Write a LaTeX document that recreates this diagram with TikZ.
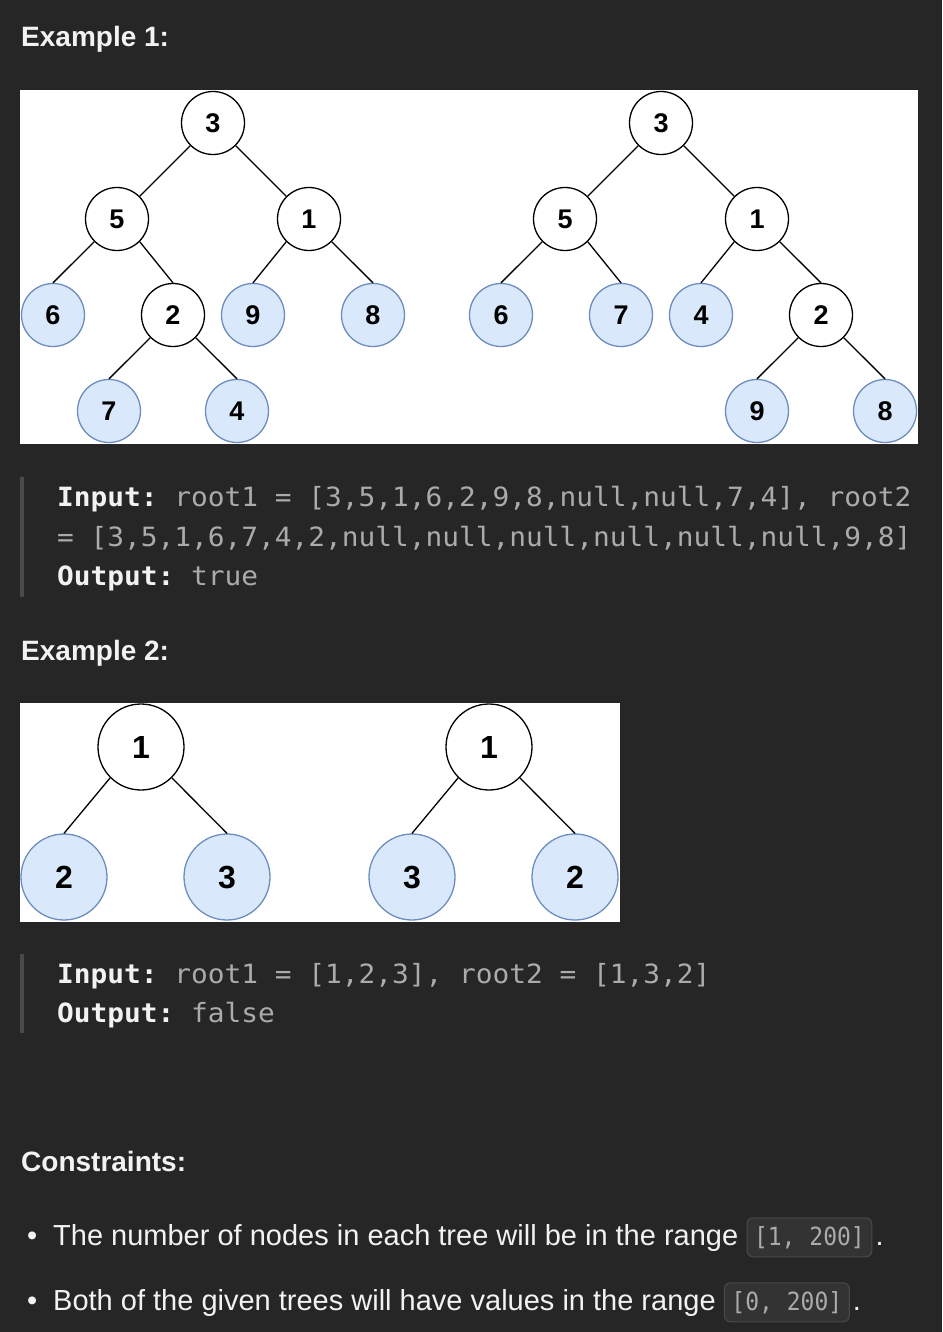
\documentclass[tikz,border=0pt]{standalone}
\usepackage{fontspec}
\setmainfont{Liberation Sans}
\newfontfamily\codefont{DejaVu Sans Mono}[FakeStretch=1.05]
\newfontfamily\chipfont{DejaVu Sans Mono}[FakeStretch=0.92]
\usetikzlibrary{positioning}
\definecolor{pagebg}{HTML}{262626}
\definecolor{leaffill}{HTML}{DAE8FC}
\definecolor{leafdraw}{HTML}{6C8EBF}
\definecolor{codegray}{HTML}{ABABAB}
\definecolor{quotebar}{HTML}{4A4A4A}
\definecolor{chipfill}{HTML}{333333}
\definecolor{chipdraw}{HTML}{4A4A4A}
\definecolor{textwhite}{HTML}{F2F2F2}
\frenchspacing
\begin{document}
\begin{tikzpicture}[x=1pt,y=-1pt, line join=round, line cap=round,
  inner/.style={circle,draw=black,fill=white,line width=1.3pt,minimum size=63pt,inner sep=0pt,font=\fontsize{27}{27}\selectfont\bfseries},
  leaf/.style={inner,draw=leafdraw,fill=leaffill},
  big/.style={minimum size=86pt,font=\fontsize{32}{32}\selectfont\bfseries},
  edge/.style={line width=1.3pt},
  head/.style={anchor=base west,inner sep=0pt,text=textwhite,font=\fontsize{28}{28}\selectfont\bfseries},
  code/.style={anchor=base west,inner sep=0pt,text=codegray,font=\fontsize{26.5}{26.5}\codefont},
  body/.style={anchor=base west,inner sep=0pt,text=textwhite,font=\fontsize{29}{29}\selectfont},
  chip/.style={draw=chipdraw,fill=chipfill,rounded corners=6pt,line width=1pt,text=codegray,font=\fontsize{25}{25}\chipfont,minimum height=39pt,inner xsep=7pt}]
\useasboundingbox (0,0) rectangle (942,1332);
\fill[pagebg] (0,0) rectangle (942,1332);
%\draw[color=gray!50,dashed] (0,0) grid[step=100] (942,1332);

% example 1
\node[head] (ex1) at (21,47) {Example 1:};
\fill[white] (20,90) rectangle (918,444);
\foreach \n/\x/\y/\t in {p3/213/123/3, p5/117/219/5, p1/309/219/1, p2/173/315/2,
                         q3/661/123/3, q5/565/219/5, q1/757/219/1, q2/821/315/2}
  \node[inner] (\n) at (\x,\y) {\t};
\foreach \n/\x/\y/\t in {p6/53/315/6, p9/253/315/9, p8/373/315/8, p7/109/411/7, p4/237/411/4,
                         q6/501/315/6, q7/621/315/7, q4/701/315/4, q9/757/411/9, q8/885/411/8}
  \node[leaf] (\n) at (\x,\y) {\t};
\foreach \a/\b in {p3.south west/p5.north east, p3.south east/p1.north west,
                   p5.south west/p6.north, p5.south east/p2.north,
                   p1.south west/p9.north, p1.south east/p8.north,
                   p2.south west/p7.north, p2.south east/p4.north,
                   q3.south west/q5.north east, q3.south east/q1.north west,
                   q5.south west/q6.north, q5.south east/q7.north,
                   q1.south west/q4.north, q1.south east/q2.north,
                   q2.south west/q9.north, q2.south east/q8.north}
  \draw[edge] (\a) -- (\b);

\fill[quotebar] (20,477) rectangle (24,597);
\node[code] (in1) at (57,506) {{\color{textwhite}\bfseries Input:} root1 = [3,5,1,6,2,9,8,null,null,7,4], root2};
\node[code] (in1b) at (57,546) {= [3,5,1,6,7,4,2,null,null,null,null,null,null,9,8]};
\node[code] (out1) at (57,585) {{\color{textwhite}\bfseries Output:} true};

% example 2
\node[head] (ex2) at (21,660) {Example 2:};
\fill[white] (20,703) rectangle (620,922);
\node[inner,big] (r1) at (141,747) {1};
\node[leaf,big] (r2) at (64,877) {2};
\node[leaf,big] (r3) at (227,877) {3};
\node[inner,big] (s1) at (489,747) {1};
\node[leaf,big] (s3) at (412,877) {3};
\node[leaf,big] (s2) at (575,877) {2};
\foreach \a/\b in {r1.south west/r2.north, r1.south east/r3.north,
                   s1.south west/s3.north, s1.south east/s2.north}
  \draw[edge] (\a) -- (\b);

\fill[quotebar] (20,954) rectangle (24,1033);
\node[code] (in2) at (57,983) {{\color{textwhite}\bfseries Input:} root1 = [1,2,3], root2 = [1,3,2]};
\node[code] (out2) at (57,1022) {{\color{textwhite}\bfseries Output:} false};

% constraints
\node[head] (cons) at (21,1171) {Constraints:};
\node[body] (dot1) at (27,1245) {•};
\node[body] (c1) at (53,1245) {The number of nodes in each tree will be in the range};
\node[chip, base right=8pt of c1] (r1chip) {[1, 200]};
\node[body, base right=3pt of r1chip] (end1) {.};
\node[body] (dot2) at (27,1310) {•};
\node[body] (c2) at (53,1310) {Both of the given trees will have values in the range};
\node[chip, base right=8pt of c2] (r2chip) {[0, 200]};
\node[body, base right=3pt of r2chip] (end2) {.};
\end{tikzpicture}
\end{document}
